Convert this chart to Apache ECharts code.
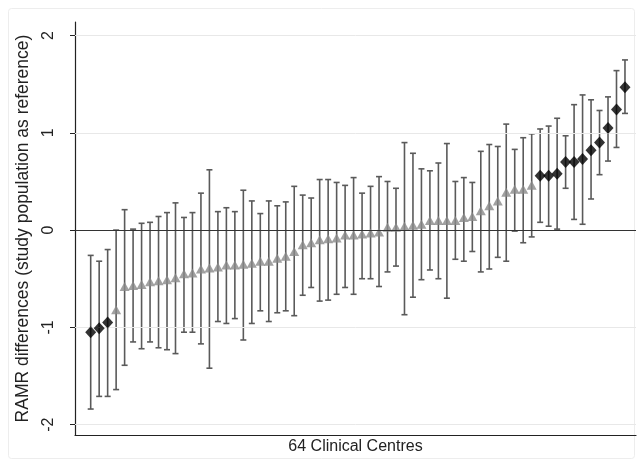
<!DOCTYPE html>
<html><head><meta charset="utf-8">
<script src="https://cdn.jsdelivr.net/npm/echarts@6/dist/echarts.min.js"></script>
<style>html,body{margin:0;padding:0;background:#fff}#c{width:643px;height:467px}</style>
</head><body><div id="c"></div>
<script>
// 64 clinical centres, ranked by RAMR difference
const centres = [1,2,3,4,5,6,7,8,9,10,11,12,13,14,15,16,17,18,19,20,21,22,23,24,25,26,27,28,29,30,31,32,
  33,34,35,36,37,38,39,40,41,42,43,44,45,46,47,48,49,50,51,52,53,54,55,56,57,58,59,60,61,62,63,64];
const estimate = [-1.05,-1.01,-0.95,-0.82,-0.58,-0.57,-0.56,-0.53,-0.52,-0.51,-0.49,-0.45,-0.44,-0.40,-0.39,-0.38,
  -0.36,-0.36,-0.35,-0.34,-0.32,-0.32,-0.29,-0.27,-0.22,-0.15,-0.13,-0.10,-0.09,-0.08,-0.05,-0.05,
  -0.04,-0.03,-0.02,0.03,0.03,0.04,0.05,0.06,0.10,0.10,0.10,0.10,0.13,0.14,0.20,0.25,
  0.30,0.39,0.42,0.42,0.46,0.56,0.56,0.58,0.70,0.70,0.73,0.82,0.90,1.05,1.24,1.47];
const lowerCI = [-1.84,-1.71,-1.71,-1.64,-1.39,-1.15,-1.22,-1.15,-1.21,-1.23,-1.27,-1.05,-1.05,-1.17,-1.42,-0.94,
  -0.96,-0.91,-1.13,-0.96,-0.83,-0.94,-0.85,-0.83,-0.88,-0.67,-0.59,-0.73,-0.72,-0.66,-0.59,-0.66,
  -0.50,-0.50,-0.58,-0.43,-0.37,-0.87,-0.69,-0.51,-0.41,-0.50,-0.70,-0.30,-0.32,-0.22,-0.43,-0.40,
  -0.28,-0.32,-0.01,-0.13,-0.07,0.08,0.04,0.01,0.43,0.11,0.06,0.32,0.57,0.71,0.85,1.20];
const upperCI = [-0.26,-0.32,-0.20,0.00,0.21,0.01,0.07,0.08,0.14,0.18,0.28,0.13,0.18,0.38,0.62,0.19,
  0.23,0.19,0.41,0.30,0.17,0.30,0.25,0.29,0.45,0.36,0.33,0.52,0.52,0.49,0.46,0.54,
  0.38,0.45,0.55,0.50,0.43,0.90,0.79,0.63,0.61,0.69,0.89,0.50,0.54,0.49,0.81,0.88,
  0.86,1.09,0.83,0.95,0.99,1.04,1.07,1.15,0.97,1.29,1.39,1.34,1.23,1.37,1.64,1.75];
// 1 = significantly different from the study population (black diamond), 0 = not (grey triangle)
const significant = [1,1,1,0,0,0,0,0,0,0,0,0,0,0,0,0,0,0,0,0,0,0,0,0,0,0,0,0,0,0,0,0,
  0,0,0,0,0,0,0,0,0,0,0,0,0,0,0,0,0,0,0,0,0,1,1,1,1,1,1,1,1,1,1,1];
const yTicks = [-2,-1,0,1,2];
const gridValues = [-2,-1,1,2];
const yTitle = 'RAMR differences (study population as reference)';
const xTitle = '64 Clinical Centres';

const barData = centres.map((c,i)=>[c, lowerCI[i], upperCI[i]]);
const triData = [], diaData = [];
centres.forEach((c,i)=>{ (significant[i] ? diaData : triData).push([c, estimate[i]]); });

const font = 'Liberation Sans, Arial, sans-serif';
const chart = echarts.init(document.getElementById('c'), null, {renderer:'canvas'});
chart.setOption({
  animation:false,
  backgroundColor:'#fff',
  graphic:[{type:'rect', shape:{x:8.5,y:8.5,width:626,height:450,r:3}, style:{fill:null,stroke:'#ededed',lineWidth:1}, silent:true, z:-10}],
  grid:{left:75, right:7, top:22, bottom:32},
  xAxis:{type:'value', min:-0.85, max:65.3,
    name:xTitle, nameLocation:'middle', nameGap:4,
    nameTextStyle:{fontFamily:font, fontSize:16, color:'#222'},
    axisLine:{show:true, onZero:false, lineStyle:{color:'#222', width:1.2}},
    axisTick:{show:false}, axisLabel:{show:false}, splitLine:{show:false}},
  yAxis:{type:'value', min:-2.107, max:2.14,
    name:yTitle, nameLocation:'middle', nameGap:43, nameRotate:90,
    nameTextStyle:{fontFamily:font, fontSize:17.5, color:'#222'},
    axisLine:{show:true, onZero:false, lineStyle:{color:'#222', width:1.2}},
    axisTick:{show:true, length:5, customValues:yTicks, lineStyle:{color:'#222'}},
    axisLabel:{show:true, customValues:yTicks, rotate:90, margin:18, fontFamily:font, fontSize:16, color:'#222'},
    splitLine:{show:false}},
  series:[
    {type:'line', data:[], z:1, silent:true,
      markLine:{silent:true, symbol:'none', label:{show:false}, animation:false,
        data: gridValues.map(v=>({yAxis:v, lineStyle:{color:'#e8e8e8', width:1, type:'solid'}}))
          .concat([{yAxis:0, lineStyle:{color:'#333', width:1.2, type:'solid'}}])}},
    {type:'custom', z:3, silent:true, data:barData,
      renderItem:function(params, api){
        const x = api.value(0), lo = api.value(1), hi = api.value(2);
        const a = api.coord([x, lo]), b = api.coord([x, hi]);
        const cw = 3, st = {stroke:'#5a5a5a', lineWidth:1.6};
        return {type:'group', children:[
          {type:'line', shape:{x1:a[0],y1:a[1],x2:b[0],y2:b[1]}, style:st},
          {type:'line', shape:{x1:a[0]-cw,y1:a[1],x2:a[0]+cw,y2:a[1]}, style:st},
          {type:'line', shape:{x1:b[0]-cw,y1:b[1],x2:b[0]+cw,y2:b[1]}, style:st}
        ]};
      }},
    {type:'scatter', z:4, data:triData, symbol:'triangle', symbolSize:[10,9],
      itemStyle:{color:'#8a8a8a'}},
    {type:'scatter', z:5, data:diaData, symbol:'diamond', symbolSize:[11,12],
      itemStyle:{color:'#000'}}
  ]
});
</script></body></html>
